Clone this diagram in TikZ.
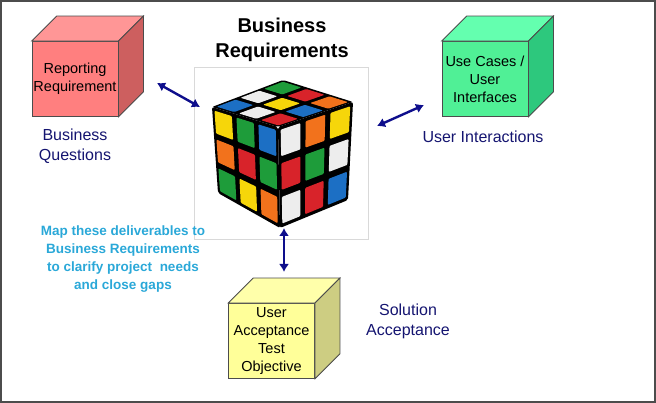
\documentclass[tikz,border=0pt]{standalone}
\usepackage{fontspec}
\setmainfont{Liberation Sans}
\usepackage{tikz}
\usetikzlibrary{arrows.meta}
\usetikzlibrary{calc}
\usetikzlibrary{positioning}
\definecolor{navy}{HTML}{141470}
\definecolor{arrowblue}{HTML}{0E0E8C}
\definecolor{mapcyan}{HTML}{2AA8D8}
\definecolor{rbred}{HTML}{D8232A}
\definecolor{rbgreen}{HTML}{1E9C3A}
\definecolor{rbblue}{HTML}{1C6FC4}
\definecolor{rbyellow}{HTML}{F6D60A}
\definecolor{rborange}{HTML}{F2721C}
\definecolor{rbwhite}{HTML}{EDEDED}
\definecolor{repfront}{RGB}{255,127,127}
\definecolor{reptop}{RGB}{255,150,150}
\definecolor{repside}{RGB}{205,95,95}
\definecolor{usefront}{RGB}{80,240,150}
\definecolor{usetop}{RGB}{100,255,175}
\definecolor{useside}{RGB}{45,200,125}
\definecolor{uatfront}{RGB}{255,255,153}
\definecolor{uattop}{RGB}{255,255,170}
\definecolor{uatside}{RGB}{205,205,130}
\tikzstyle{block} = [rectangle, draw=black!70, thick, font=\fontsize{14.5}{18}\selectfont, text centered, align=center, minimum width=86pt, minimum height=75pt, inner sep=0pt]
\tikzstyle{line} = [draw, arrowblue, line width=2.4pt, {Latex[length=8pt,width=10pt]}-{Latex[length=8pt,width=10pt]}]
\tikzstyle{value} = [navy, font=\fontsize{16}{20}\selectfont, align=center]
\newcommand\bpt[2]{($($(A)!#1!(B)$)!#2!($(D)!#1!(C)$)$)}
\newcommand\stickers[1]{%
  \fill[black, rounded corners=2pt] (A) -- (B) -- (C) -- (D) -- cycle;
  \foreach \c [count=\k from 0] in {#1} {
    \pgfmathsetmacro\ii{int(mod(\k,3))}
    \pgfmathsetmacro\jj{int((\k-\ii)/3)}
    \pgfmathsetmacro\sa{\ii/3+0.035}
    \pgfmathsetmacro\sb{(\ii+1)/3-0.035}
    \pgfmathsetmacro\ta{\jj/3+0.035}
    \pgfmathsetmacro\tb{(\jj+1)/3-0.035}
    \fill[\c, rounded corners=1pt] \bpt{\sa}{\ta} -- \bpt{\sb}{\ta} -- \bpt{\sb}{\tb} -- \bpt{\sa}{\tb} -- cycle;
  }}
\newcommand\boxfaces[3]{%
  \filldraw[fill=#2, draw=black!70, thick] (#1.north west) -- ++(25,-25) -- ($(#1.north east)+(25,-25)$) -- (#1.north east) -- cycle;
  \filldraw[fill=#3, draw=black!70, thick] (#1.north east) -- ($(#1.north east)+(25,-25)$) -- ($(#1.south east)+(25,-25)$) -- (#1.south east) -- cycle;}

\begin{document}
\begin{tikzpicture}[x=1pt, y=-1pt]
            \useasboundingbox (0,0) rectangle (656,403);
            \draw[black!70, line width=1.5pt] (1,1) rectangle (655,402);
            % Place nodes
            \node [font=\bfseries\fontsize{20}{25}\selectfont, align=center] (title) at (282,40) {Business\\Requirements};
            \node [draw=black!15, minimum width=174pt, minimum height=172pt, inner sep=0pt] (img) at (281,153) {};
            \node [block, fill=repfront] (rep) at (75,79) {Reporting\\Requirement};
            \node [block, fill=usefront] (use) at (485,79) {Use Cases /\\User\\Interfaces};
            \node [block, fill=uatfront] (uat) at (271.5,341) {User\\Acceptance\\Test\\Objective};
            \node [value, below=8pt of rep] (bq) {Business\\Questions};
            \node [value] (ui) at (483,137) {User Interactions};
            \node [value] (sa) at (408,321) {Solution\\Acceptance};
            \node [mapcyan, font=\bfseries\fontsize{13.5}{18}\selectfont, align=center] (map) at (123,259) {Map these deliverables to\\Business Requirements\\to clarify project\ \ needs\\and close gaps};
            % Faces of the boxes
            \boxfaces{rep}{reptop}{repside}
            \boxfaces{use}{usetop}{useside}
            \boxfaces{uat}{uattop}{uatside}
            % Puzzle cube
            \coordinate (A) at (283,80); \coordinate (B) at (353,102);
            \coordinate (C) at (278,127); \coordinate (D) at (212,107);
            \stickers{rbgreen,rbred,rborange,rbwhite,rbyellow,rbblue,rbblue,rbwhite,rbred}
            \coordinate (A) at (212,107); \coordinate (B) at (278,127);
            \coordinate (C) at (280,228); \coordinate (D) at (218,193);
            \stickers{rbyellow,rbgreen,rbblue,rborange,rbred,rbgreen,rbgreen,rbyellow,rborange}
            \coordinate (A) at (278,127); \coordinate (B) at (353,102);
            \coordinate (C) at (348,200); \coordinate (D) at (280,228);
            \stickers{rbwhite,rborange,rbyellow,rbred,rbgreen,rbwhite,rbwhite,rbred,rbblue}
            % Draw edges
            \coordinate (r1) at (157,83); \coordinate (r2) at (200,107);
            \coordinate (u1) at (377,126); \coordinate (u2) at (424,105);
            \coordinate (c1) at (284,228); \coordinate (c2) at (284,272);
            \path [line] (r1) -- (r2);
            \path [line] (u1) -- (u2);
            \path [line] (c1) -- (c2);
\end{tikzpicture}
\end{document}
